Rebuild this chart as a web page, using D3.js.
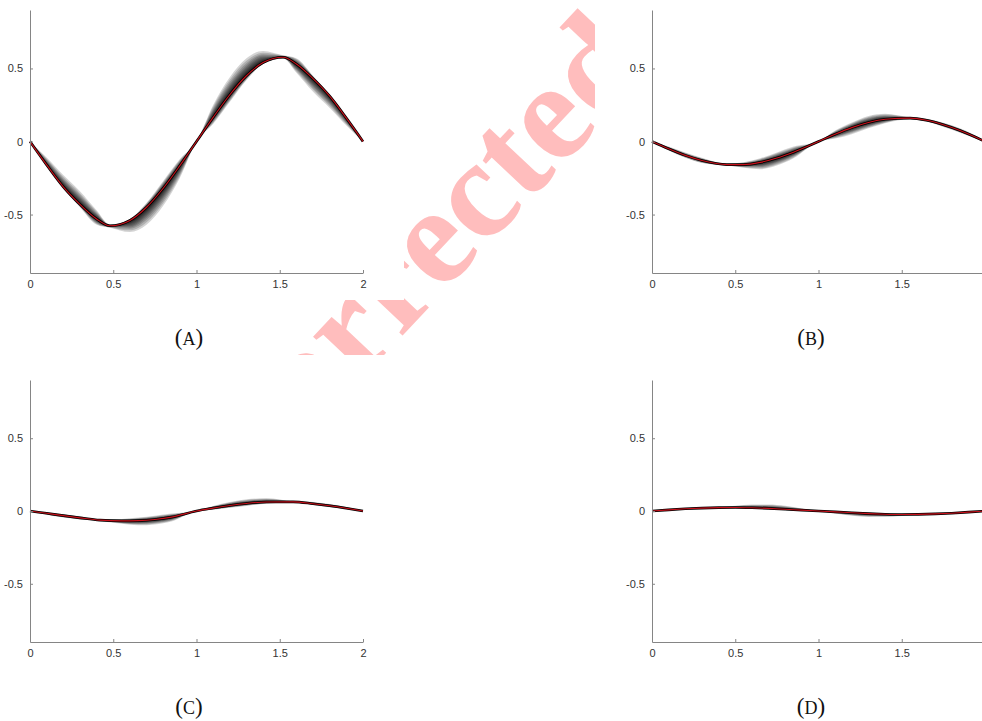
<!DOCTYPE html>
<html>
<head>
<meta charset="utf-8">
<script src="https://cdn.jsdelivr.net/npm/d3@7"></script>
<style>
  html, body { margin: 0; padding: 0; background: #fff; }
  svg { display: block; }
  .tick text { font-family: "Liberation Sans", Arial, sans-serif; font-size: 11px; fill: #333; }
  .axis path, .axis line { stroke: #858585; }
  .cap { font-family: "Liberation Serif", "Times New Roman", serif; fill: #111; }
</style>
</head>
<body>
<div id="chart"></div>
<script>
// tick labels shared by all four panels
const xTicks = [0, 0.5, 1, 1.5, 2];
const yTicks = [-0.5, 0, 0.5];

// (A)
const xA    = [0, .1, .2, .3, .4, .48, .6, .7, .8, .9, 1, 1.1, 1.2, 1.3, 1.4, 1.52, 1.6, 1.7, 1.8, 1.9, 2];
const meanA = [0, -.16, -.31, -.43, -.53, -.577, -.54, -.45, -.32, -.165, 0, .165, .32, .45, .54, .577, .53, .43, .31, .16, 0];
const hiA   = [0, -.11, -.23, -.34, -.47, -.568, -.53, -.42, -.27, -.12, 0, .25, .44, .57, .62, .59, .57, .45, .32, .17, 0];
const loA   = [0, -.17, -.32, -.45, -.57, -.59, -.62, -.57, -.44, -.25, 0, .12, .27, .42, .53, .568, .47, .34, .23, .11, 0];

// (B)
const xB    = [0, .1, .2, .3, .45, .55, .65, .75, .85, 1, 1.1, 1.2, 1.3, 1.4, 1.55, 1.65, 1.75, 1.85, 2];
const meanB = [0, -.05, -.095, -.13, -.158, -.158, -.143, -.113, -.073, 0, .05, .095, .13, .152, .16, .145, .115, .075, 0];
const hiB   = [0, -.035, -.075, -.112, -.152, -.142, -.115, -.075, -.035, 0, .075, .13, .175, .19, .166, .155, .128, .09, .005];
const loB   = [0, -.062, -.112, -.148, -.165, -.18, -.19, -.165, -.115, 0, .02, .05, .09, .125, .153, .135, .1, .06, -.005];

// (C)
const xC    = [0, .1, .2, .3, .42, .55, .65, .75, .85, 1, 1.1, 1.2, 1.3, 1.42, 1.58, 1.7, 1.8, 1.9, 2];
const meanC = [0, -.016, -.032, -.047, -.063, -.068, -.066, -.058, -.042, 0, .02, .038, .052, .062, .063, .05, .036, .019, 0];
const hiC   = [0, -.01, -.022, -.036, -.058, -.055, -.045, -.032, -.018, 0, .035, .062, .08, .088, .068, .062, .048, .028, 0];
const loC   = [0, -.025, -.045, -.058, -.068, -.088, -.098, -.092, -.072, 0, .008, .022, .035, .05, .058, .042, .026, .012, 0];

// (D)
const xD    = [0, .1, .2, .3, .4, .5, .6, .7, .8, .9, 1, 1.1, 1.2, 1.3, 1.4, 1.5, 1.6, 1.7, 1.8, 1.9, 2];
const meanD = [0, .008, .015, .02, .023, .024, .022, .018, .012, .006, 0, -.006, -.012, -.018, -.022, -.024, -.023, -.02, -.015, -.008, 0];
const hiD   = [0, .011, .019, .024, .026, .036, .044, .045, .036, .018, 0, -.003, -.006, -.01, -.014, -.02, -.021, -.017, -.011, -.005, 0];
const loD   = [0, .005, .011, .016, .02, .02, .018, .012, .006, .001, 0, -.018, -.033, -.041, -.04, -.034, -.026, -.024, -.019, -.012, 0];

const W = 982, H = 721;

// panel frames (pixel boxes) and their captions
const panels = [
  { label: "A", xs: xA, mean: meanA, hi: hiA, lo: loA, left: 30,  right: 363, top: 10,  bottom: 273, cx: 189, cy: 345 },
  { label: "B", xs: xB, mean: meanB, hi: hiB, lo: loB, left: 652, right: 985, top: 10,  bottom: 273, cx: 811, cy: 345 },
  { label: "C", xs: xC, mean: meanC, hi: hiC, lo: loC, left: 30,  right: 363, top: 380, bottom: 642, cx: 189, cy: 714 },
  { label: "D", xs: xD, mean: meanD, hi: hiD, lo: loD, left: 652, right: 985, top: 380, bottom: 642, cx: 811, cy: 714 }
];

// fan levels: fraction of the spread drawn by each stacked translucent band
const fanLevels = [1, .85, .72, .6, .5, .41, .33, .26, .2, .15, .11, .08, .05, .03];

const svg = d3.select("#chart").append("svg").attr("width", W).attr("height", H);

// watermark, hidden where the sub-figures sit
svg.append("defs").append("clipPath").attr("id", "wm-clip")
  .append("polygon").attr("points", "404,0 595,0 595,355 0,355 0,300 404,300");
svg.append("g").attr("clip-path", "url(#wm-clip)")
  .append("text")
  .attr("transform", "translate(240,508) rotate(-46.7)")
  .attr("font-family", "Liberation Serif, Times New Roman, serif")
  .attr("font-weight", "bold")
  .attr("font-size", 140)
  .attr("fill", "#ffbdbd")
  .text("Corrected");

panels.forEach(p => {
  const x = d3.scaleLinear().domain([0, 2]).range([p.left, p.right]);
  const y = d3.scaleLinear().domain([-0.9, 0.9]).range([p.bottom, p.top]);
  const g = svg.append("g");
  const idx = d3.range(p.xs.length);

  fanLevels.forEach(f => {
    const area = d3.area()
      .curve(d3.curveMonotoneX)
      .x(i => x(p.xs[i]))
      .y0(i => y(p.mean[i] + (p.lo[i] - p.mean[i]) * f))
      .y1(i => y(p.mean[i] + (p.hi[i] - p.mean[i]) * f));
    g.append("path").attr("d", area(idx)).attr("fill", "#000").attr("fill-opacity", 0.17);
  });

  const line = d3.line().curve(d3.curveMonotoneX).x(i => x(p.xs[i])).y(i => y(p.mean[i]));
  g.append("path").attr("d", line(idx)).attr("fill", "none").attr("stroke", "#000").attr("stroke-width", 2.6);
  g.append("path").attr("d", line(idx)).attr("fill", "none").attr("stroke", "#c8101a").attr("stroke-width", 1.1);

  g.append("g").attr("class", "axis").attr("transform", `translate(0,${p.bottom})`)
    .call(d3.axisBottom(x).tickValues(xTicks).tickFormat(d => String(d)).tickSizeInner(-3).tickSizeOuter(0).tickPadding(7));
  g.append("g").attr("class", "axis").attr("transform", `translate(${p.left},0)`)
    .call(d3.axisLeft(y).tickValues(yTicks).tickFormat(d => String(d)).tickSizeInner(-3).tickSizeOuter(0).tickPadding(7));

  const cap = svg.append("text").attr("class", "cap").attr("x", p.cx).attr("y", p.cy)
    .attr("text-anchor", "middle").attr("font-size", 23);
  cap.append("tspan").text("(");
  cap.append("tspan").attr("font-size", 18).text(p.label);
  cap.append("tspan").text(")");
});
</script>
</body>
</html>
